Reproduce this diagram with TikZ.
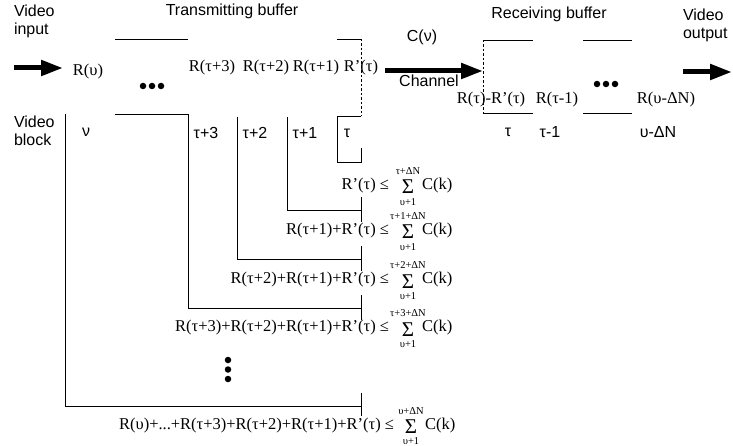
\documentclass[tikz,border=0pt]{standalone}
\usepackage{fontspec}
\setmainfont{Liberation Serif}
\newfontfamily\sansf{Liberation Sans}
\usetikzlibrary{arrows.meta}
\begin{document}
\begin{tikzpicture}[x=1pt,y=-1pt,
  every node/.style={inner sep=0pt, outer sep=0pt},
  sanslbl/.style={font=\sansf\fontsize{16}{18}\selectfont},
  seriflbl/.style={font=\fontsize{16.5}{18}\selectfont},
  limlbl/.style={font=\fontsize{10.5}{11}\selectfont, text height=7pt, text depth=0.5pt},
  sigmalbl/.style={font=\fontsize{21}{21}\selectfont, text height=14pt, text depth=0pt},
  wire/.style={line width=0.8pt},
  dashwire/.style={line width=0.8pt, dash pattern=on 2.5pt off 2pt},
  bigarrow/.style={line width=5pt, -{Triangle[length=22pt,width=15pt]}},
  dotmark/.style={circle, fill=black, minimum size=6.5pt, inner sep=0pt},
]
\useasboundingbox (0,0) rectangle (733,446);

% ---------- top labels ----------
\node[sanslbl, align=left, anchor=west] (vin) at (14,21) {Video\\input};
\node[sanslbl] (tbuf) at (232,11) {Transmitting buffer};
\node[sanslbl] (rbuf) at (549,14) {Receiving buffer};
\node[sanslbl, align=left, anchor=west] (vout) at (683,25) {Video\\output};
\node[sanslbl] (cnu) at (422,37) {C(ν)};
\node[sanslbl] (chan) at (429,81) {Channel};

% ---------- arrows ----------
\coordinate (inS) at (14,68);
\coordinate (inE) at (63,68);
\draw[bigarrow] (inS) -- (inE);
\coordinate (chS) at (385,71);
\coordinate (chE) at (483,71);
\draw[bigarrow] (chS) -- (chE);
\coordinate (outS) at (683,72);
\coordinate (outE) at (732,72);
\draw[bigarrow] (outS) -- (outE);

% ---------- transmitting buffer contents ----------
\node[seriflbl] (rv) at (88,72) {R(υ)};
\node[dotmark] (td1) at (143,86) {};
\node[dotmark] (td2) at (152,86) {};
\node[dotmark] (td3) at (161,86) {};
\node[seriflbl] (rt3) at (212,68) {R(τ+3)};
\node[seriflbl] (rt2) at (266,68) {R(τ+2)};
\node[seriflbl] (rt1) at (316,68) {R(τ+1)};
\node[seriflbl] (rtp) at (361,68) {R’(τ)};

% transmitting buffer outline
\draw[wire] (115,39) -- (188,39);
\draw[wire] (337,39) -- (361,39);
\draw[dashwire] (361,39) -- (361,116);

% ---------- video block labels ----------
\node[sanslbl, align=left, anchor=west] (vblk) at (14,131) {Video\\block};
\node[sanslbl] (bnu) at (86,132) {ν};
\node[sanslbl] (bt3) at (206,133) {τ+3};
\node[sanslbl] (bt2) at (255,133) {τ+2};
\node[sanslbl] (bt1) at (305,133) {τ+1};
\node[sanslbl] (bt0) at (347,133) {τ};

% ---------- tree lines ----------
\draw[wire] (361,116) -- (337,116) -- (337,162) -- (361,162) -- (361,148);
\draw[wire] (287,117) -- (287,210) -- (361,210);
\draw[wire] (361,197) -- (361,222);
\draw[wire] (237,117) -- (237,259) -- (361,259);
\draw[wire] (361,246) -- (361,271);
\draw[wire] (115,114) -- (188,114) -- (188,308) -- (361,308);
\draw[wire] (361,295) -- (361,320);
\draw[wire] (65,114) -- (65,406) -- (361,406);
\draw[wire] (361,393) -- (361,416);

% ---------- inequalities ----------
\node[seriflbl, anchor=east] (l1) at (389,186) {R’(τ) ≤};
\node[sigmalbl] (s1) at (408,187) {Σ};
\node[limlbl] (u1) at (408,171.5) {τ+ΔN};
\node[limlbl] (d1) at (408,202) {υ+1};
\node[seriflbl, anchor=west] (c1) at (422,186) {C(k)};

\node[seriflbl, anchor=east] (l2) at (389,231) {R(τ+1)+R’(τ) ≤};
\node[sigmalbl] (s2) at (408,232) {Σ};
\node[limlbl] (u2) at (408,216.5) {τ+1+ΔN};
\node[limlbl] (d2) at (408,247) {υ+1};
\node[seriflbl, anchor=west] (c2) at (422,231) {C(k)};

\node[seriflbl, anchor=east] (l3) at (389,280) {R(τ+2)+R(τ+1)+R’(τ) ≤};
\node[sigmalbl] (s3) at (408,281) {Σ};
\node[limlbl] (u3) at (408,265.5) {τ+2+ΔN};
\node[limlbl] (d3) at (408,296) {υ+1};
\node[seriflbl, anchor=west] (c3) at (422,280) {C(k)};

\node[seriflbl, anchor=east] (l4) at (389,328) {R(τ+3)+R(τ+2)+R(τ+1)+R’(τ) ≤};
\node[sigmalbl] (s4) at (408,329) {Σ};
\node[limlbl] (u4) at (408,313.5) {τ+3+ΔN};
\node[limlbl] (d4) at (408,344) {υ+1};
\node[seriflbl, anchor=west] (c4) at (422,328) {C(k)};

\node[dotmark] (vd1) at (228,360) {};
\node[dotmark] (vd2) at (228,369.5) {};
\node[dotmark] (vd3) at (228,379) {};

\node[seriflbl, anchor=east] (l5) at (394,425.5) {R(υ)+...+R(τ+3)+R(τ+2)+R(τ+1)+R’(τ) ≤};
\node[sigmalbl] (s5) at (411,426) {Σ};
\node[limlbl] (u5) at (411,411) {υ+ΔN};
\node[limlbl] (d5) at (411,441.5) {υ+1};
\node[seriflbl, anchor=west] (c5) at (425,425.5) {C(k)};

% ---------- receiving buffer ----------
\draw[dashwire] (483,40) -- (483,113);
\draw[wire] (483,40) -- (533,40);
\draw[wire] (583,40) -- (632,40);
\draw[wire] (483,113) -- (533,113);
\draw[wire] (583,113) -- (632,113);
\node[seriflbl] (rr1) at (491,100) {R(τ)-R’(τ)};
\node[seriflbl] (rr2) at (557,100) {R(τ-1)};
\node[dotmark] (rd1) at (597,84) {};
\node[dotmark] (rd2) at (606,84) {};
\node[dotmark] (rd3) at (615,84) {};
\node[seriflbl] (rr3) at (666,100) {R(υ-ΔN)};
\node[sanslbl] (bb1) at (508,132) {τ};
\node[sanslbl] (bb2) at (550,132) {τ-1};
\node[sanslbl] (bb3) at (658,132) {υ-ΔN};
\end{tikzpicture}
\end{document}
